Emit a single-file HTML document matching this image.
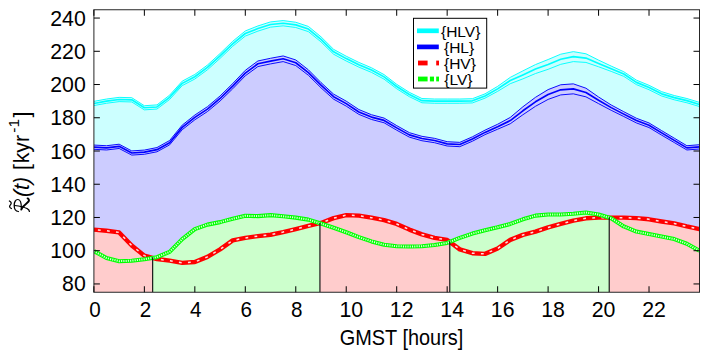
<!DOCTYPE html>
<html><head><meta charset="utf-8"><title>chart</title>
<style>html,body{margin:0;padding:0;background:#fff}body{width:708px;height:354px;overflow:hidden}</style></head>
<body>
<svg width="708" height="354" viewBox="0 0 708 354" style="display:block">
<rect width="708" height="354" fill="#fff"/>
<defs><clipPath id="c"><rect x="93.90" y="9.75" width="605.60" height="282.50"/></clipPath></defs>
<g clip-path="url(#c)">
<polygon fill="#ccffff" points="93.90,101.37 106.52,99.03 119.13,97.36 131.75,97.69 144.37,105.72 156.98,104.89 169.60,95.18 182.22,81.13 194.83,74.44 207.45,65.07 220.07,53.53 232.68,41.32 245.30,30.94 257.92,25.93 270.53,21.91 283.15,20.57 295.77,22.25 308.38,26.43 321.00,36.80 333.62,49.35 346.23,56.21 358.85,62.40 371.47,67.75 384.08,74.61 396.70,84.31 409.32,92.34 421.93,98.53 434.55,99.03 447.17,99.03 459.78,99.03 472.40,98.70 485.02,93.85 497.63,86.36 510.25,77.38 522.87,70.90 535.48,64.59 548.10,59.52 560.72,54.20 573.33,51.63 585.95,53.79 598.57,60.10 611.18,66.08 623.80,71.76 636.42,80.13 649.03,85.31 661.65,91.67 674.27,95.52 686.88,98.53 699.50,102.38 699.50,292.25 93.90,292.25"/>
<polygon fill="#ccccff" points="93.90,145.05 106.52,145.72 119.13,144.21 131.75,150.91 144.37,150.07 156.98,147.56 169.60,140.53 182.22,125.12 194.83,115.07 207.45,106.69 220.07,95.97 232.68,83.58 245.30,70.35 257.92,60.97 270.53,58.29 283.15,55.94 295.77,59.96 308.38,69.84 321.00,82.57 333.62,94.13 346.23,101.17 358.85,109.54 371.47,114.73 384.08,118.08 396.70,125.62 409.32,132.65 421.93,136.34 434.55,138.35 447.17,141.70 459.78,142.37 472.40,136.84 485.02,130.14 497.63,124.25 510.25,117.43 522.87,106.80 535.48,97.33 548.10,89.60 560.72,84.78 573.33,83.86 585.95,88.19 598.57,96.99 611.18,104.97 623.80,111.72 636.42,118.25 649.03,122.94 661.65,130.64 674.27,138.18 686.88,145.72 699.50,144.71 699.50,292.25 93.90,292.25"/>
<polygon fill="#ffcccc" points="93.90,229.60 106.52,230.76 119.13,232.43 131.75,245.55 144.37,255.69 152.65,257.87 152.65,292.25 93.90,292.25"/>
<polygon fill="#ccffcc" points="152.65,257.87 156.98,257.19 169.60,251.87 182.22,239.07 194.83,229.10 207.45,224.62 220.07,222.12 232.68,218.80 245.30,215.81 257.92,216.14 270.53,215.14 283.15,216.31 295.77,217.64 308.38,219.63 319.94,223.21 319.94,292.25 152.65,292.25"/>
<polygon fill="#ffcccc" points="319.94,223.21 321.00,222.95 333.62,218.14 346.23,215.14 358.85,215.64 371.47,217.64 384.08,220.13 396.70,223.95 409.32,229.60 421.93,234.42 434.55,237.91 447.17,239.90 449.78,241.86 449.78,292.25 319.94,292.25"/>
<polygon fill="#ccffcc" points="449.78,241.86 459.78,237.91 472.40,233.59 485.02,230.27 497.63,227.28 510.25,223.95 522.87,219.30 535.48,215.64 548.10,214.48 560.72,214.48 573.33,213.81 585.95,212.49 598.57,214.48 609.22,217.64 609.22,292.25 449.78,292.25"/>
<polygon fill="#ffcccc" points="609.22,217.64 611.18,217.64 623.80,217.64 636.42,218.14 649.03,219.30 661.65,221.46 674.27,223.45 686.88,226.44 699.50,229.10 699.50,292.25 609.22,292.25"/>
<polyline fill="none" stroke="#00ffff" stroke-width="0.95" stroke-linejoin="round" points="93.90,101.37 106.52,99.03 119.13,97.36 131.75,97.69 144.37,105.72 156.98,104.89 169.60,95.18 182.22,81.13 194.83,74.44 207.45,65.07 220.07,53.53 232.68,41.32 245.30,30.94 257.92,25.93 270.53,21.91 283.15,20.57 295.77,22.25 308.38,26.43 321.00,36.80 333.62,49.35 346.23,56.21 358.85,62.40 371.47,67.75 384.08,74.61 396.70,84.31 409.32,92.34 421.93,98.53 434.55,99.03 447.17,99.03 459.78,99.03 472.40,98.70 485.02,93.85 497.63,86.36 510.25,77.38 522.87,70.90 535.48,64.59 548.10,59.52 560.72,54.20 573.33,51.63 585.95,53.79 598.57,60.10 611.18,66.08 623.80,71.76 636.42,80.13 649.03,85.31 661.65,91.67 674.27,95.52 686.88,98.53 699.50,102.38"/>
<polyline fill="none" stroke="#00ffff" stroke-width="0.95" stroke-linejoin="round" points="93.90,105.57 106.52,103.26 119.13,101.61 131.75,101.94 144.37,109.87 156.98,109.04 169.60,99.47 182.22,85.60 194.83,79.00 207.45,69.75 220.07,58.37 232.68,46.32 245.30,36.08 257.92,31.13 270.53,27.17 283.15,25.85 295.77,27.50 308.38,31.63 321.00,41.86 333.62,54.24 346.23,61.01 358.85,67.11 371.47,72.40 384.08,79.16 396.70,88.74 409.32,96.66 421.93,102.77 434.55,103.26 447.17,103.26 459.78,103.26 472.40,102.93 485.02,98.15 497.63,91.34 510.25,83.70 522.87,78.88 535.48,73.56 548.10,69.32 560.72,64.34 573.33,61.60 585.95,62.43 598.57,66.75 611.18,71.40 623.80,76.36 636.42,84.61 649.03,89.73 661.65,96.00 674.27,99.80 686.88,102.77 699.50,106.56"/>
<polyline fill="none" stroke="#00ffff" stroke-width="1.65" stroke-linejoin="round" points="93.90,103.47 106.52,101.15 119.13,99.49 131.75,99.82 144.37,107.79 156.98,106.96 169.60,97.32 182.22,83.37 194.83,76.72 207.45,67.41 220.07,55.95 232.68,43.82 245.30,33.51 257.92,28.53 270.53,24.54 283.15,23.21 295.77,24.87 308.38,29.03 321.00,39.33 333.62,51.79 346.23,58.61 358.85,64.75 371.47,70.07 384.08,76.89 396.70,86.52 409.32,94.50 421.93,100.65 434.55,101.15 447.17,101.15 459.78,101.15 472.40,100.81 485.02,96.00 497.63,88.85 510.25,80.54 522.87,74.89 535.48,69.07 548.10,64.42 560.72,59.27 573.33,56.61 585.95,58.11 598.57,63.43 611.18,68.74 623.80,74.06 636.42,82.37 649.03,87.52 661.65,93.84 674.27,97.66 686.88,100.65 699.50,104.47"/>
<polyline fill="none" stroke="#0000ff" stroke-width="0.95" stroke-linejoin="round" points="93.90,145.05 106.52,145.72 119.13,144.21 131.75,150.91 144.37,150.07 156.98,147.56 169.60,140.53 182.22,125.12 194.83,115.07 207.45,106.69 220.07,95.97 232.68,83.58 245.30,70.35 257.92,60.97 270.53,58.29 283.15,55.94 295.77,59.96 308.38,69.84 321.00,82.57 333.62,94.13 346.23,101.17 358.85,109.54 371.47,114.73 384.08,118.08 396.70,125.62 409.32,132.65 421.93,136.34 434.55,138.35 447.17,141.70 459.78,142.37 472.40,136.84 485.02,130.14 497.63,124.25 510.25,117.43 522.87,106.80 535.48,97.33 548.10,89.60 560.72,84.78 573.33,83.86 585.95,88.19 598.57,96.99 611.18,104.97 623.80,111.72 636.42,118.25 649.03,122.94 661.65,130.64 674.27,138.18 686.88,145.72 699.50,144.71"/>
<polyline fill="none" stroke="#0000ff" stroke-width="0.95" stroke-linejoin="round" points="93.90,149.31 106.52,149.97 119.13,148.48 131.75,155.08 144.37,154.25 156.98,151.78 169.60,144.86 182.22,129.69 194.83,119.80 207.45,111.55 220.07,101.00 232.68,88.80 245.30,75.78 257.92,66.55 270.53,63.91 283.15,61.60 295.77,65.56 308.38,75.28 321.00,87.81 333.62,99.19 346.23,106.11 358.85,114.36 371.47,119.47 384.08,122.77 396.70,130.18 409.32,137.11 421.93,140.74 434.55,142.71 447.17,146.01 459.78,146.67 472.40,141.23 485.02,134.64 497.63,129.23 510.25,123.75 522.87,114.77 535.48,106.30 548.10,99.40 560.72,94.92 573.33,93.84 585.95,96.83 598.57,103.64 611.18,110.29 623.80,116.50 636.42,122.93 649.03,127.55 661.65,135.13 674.27,142.55 686.88,149.97 699.50,148.98"/>
<polyline fill="none" stroke="#0000ff" stroke-width="1.65" stroke-linejoin="round" points="93.90,147.18 106.52,147.84 119.13,146.35 131.75,152.99 144.37,152.16 156.98,149.67 169.60,142.69 182.22,127.40 194.83,117.43 207.45,109.12 220.07,98.49 232.68,86.19 245.30,73.06 257.92,63.76 270.53,61.10 283.15,58.77 295.77,62.76 308.38,72.56 321.00,85.19 333.62,96.66 346.23,103.64 358.85,111.95 371.47,117.10 384.08,120.42 396.70,127.90 409.32,134.88 421.93,138.54 434.55,140.53 447.17,143.85 459.78,144.52 472.40,139.04 485.02,132.39 497.63,126.74 510.25,120.59 522.87,110.79 535.48,101.81 548.10,94.50 560.72,89.85 573.33,88.85 585.95,92.51 598.57,100.32 611.18,107.63 623.80,114.11 636.42,120.59 649.03,125.24 661.65,132.89 674.27,140.36 686.88,147.84 699.50,146.85"/>
<polyline fill="none" stroke="#ff0000" stroke-width="4.4" stroke-linejoin="round" points="93.90,229.60 106.52,230.76 119.13,232.43 131.75,245.55 144.37,255.69 156.98,259.01 169.60,260.68 182.22,262.84 194.83,262.01 207.45,256.85 220.07,249.38 232.68,240.40 245.30,237.91 257.92,236.08 270.53,234.75 283.15,232.09 295.77,229.10 308.38,225.95 321.00,222.95 333.62,218.14 346.23,215.14 358.85,215.64 371.47,217.64 384.08,220.13 396.70,223.95 409.32,229.60 421.93,234.42 434.55,237.91 447.17,239.90 459.78,249.38 472.40,253.20 485.02,253.86 497.63,248.55 510.25,239.90 522.87,234.92 535.48,231.60 548.10,227.44 560.72,223.95 573.33,220.63 585.95,218.30 598.57,217.64 611.18,217.64 623.80,217.64 636.42,218.14 649.03,219.30 661.65,221.46 674.27,223.45 686.88,226.44 699.50,229.10"/>
<polyline fill="none" stroke="#ffe0e0" stroke-width="1.5" stroke-dasharray="2.8 6.3" stroke-dashoffset="-4" points="93.90,229.60 106.52,230.76 119.13,232.43 131.75,245.55 144.37,255.69 156.98,259.01 169.60,260.68 182.22,262.84 194.83,262.01 207.45,256.85 220.07,249.38 232.68,240.40 245.30,237.91 257.92,236.08 270.53,234.75 283.15,232.09 295.77,229.10 308.38,225.95 321.00,222.95 333.62,218.14 346.23,215.14 358.85,215.64 371.47,217.64 384.08,220.13 396.70,223.95 409.32,229.60 421.93,234.42 434.55,237.91 447.17,239.90 459.78,249.38 472.40,253.20 485.02,253.86 497.63,248.55 510.25,239.90 522.87,234.92 535.48,231.60 548.10,227.44 560.72,223.95 573.33,220.63 585.95,218.30 598.57,217.64 611.18,217.64 623.80,217.64 636.42,218.14 649.03,219.30 661.65,221.46 674.27,223.45 686.88,226.44 699.50,229.10"/>
<polyline fill="none" stroke="#00ff00" stroke-width="4.1" stroke-linejoin="round" points="93.90,251.04 106.52,258.02 119.13,261.18 131.75,260.68 144.37,259.18 156.98,257.19 169.60,251.87 182.22,239.07 194.83,229.10 207.45,224.62 220.07,222.12 232.68,218.80 245.30,215.81 257.92,216.14 270.53,215.14 283.15,216.31 295.77,217.64 308.38,219.63 321.00,223.54 333.62,227.77 346.23,232.26 358.85,237.08 371.47,241.40 384.08,244.72 396.70,246.22 409.32,246.55 421.93,246.22 434.55,245.06 447.17,242.90 459.78,237.91 472.40,233.59 485.02,230.27 497.63,227.28 510.25,223.95 522.87,219.30 535.48,215.64 548.10,214.48 560.72,214.48 573.33,213.81 585.95,212.49 598.57,214.48 611.18,218.22 623.80,226.44 636.42,231.60 649.03,234.09 661.65,236.58 674.27,239.07 686.88,243.73 699.50,250.71"/>
<polyline fill="none" stroke="#dcffdc" stroke-width="2.0" stroke-dasharray="1.1 1.16" points="93.90,251.04 106.52,258.02 119.13,261.18 131.75,260.68 144.37,259.18 156.98,257.19 169.60,251.87 182.22,239.07 194.83,229.10 207.45,224.62 220.07,222.12 232.68,218.80 245.30,215.81 257.92,216.14 270.53,215.14 283.15,216.31 295.77,217.64 308.38,219.63 321.00,223.54 333.62,227.77 346.23,232.26 358.85,237.08 371.47,241.40 384.08,244.72 396.70,246.22 409.32,246.55 421.93,246.22 434.55,245.06 447.17,242.90 459.78,237.91 472.40,233.59 485.02,230.27 497.63,227.28 510.25,223.95 522.87,219.30 535.48,215.64 548.10,214.48 560.72,214.48 573.33,213.81 585.95,212.49 598.57,214.48 611.18,218.22 623.80,226.44 636.42,231.60 649.03,234.09 661.65,236.58 674.27,239.07 686.88,243.73 699.50,250.71"/>
<line x1="152.65" x2="152.65" y1="257.37" y2="292.25" stroke="#111" stroke-width="1.15"/>
<line x1="319.94" x2="319.94" y1="222.71" y2="292.25" stroke="#111" stroke-width="1.15"/>
<line x1="449.78" x2="449.78" y1="241.36" y2="292.25" stroke="#111" stroke-width="1.15"/>
<line x1="609.22" x2="609.22" y1="217.14" y2="292.25" stroke="#111" stroke-width="1.15"/>
</g>
<rect x="93.90" y="9.75" width="605.60" height="282.50" fill="none" stroke="#262626" stroke-width="1"/>
<line x1="93.90" x2="93.90" y1="292.25" y2="286.25" stroke="#000" stroke-width="1"/>
<line x1="93.90" x2="93.90" y1="9.75" y2="15.75" stroke="#000" stroke-width="1"/>
<line x1="144.37" x2="144.37" y1="292.25" y2="286.25" stroke="#000" stroke-width="1"/>
<line x1="144.37" x2="144.37" y1="9.75" y2="15.75" stroke="#000" stroke-width="1"/>
<line x1="194.83" x2="194.83" y1="292.25" y2="286.25" stroke="#000" stroke-width="1"/>
<line x1="194.83" x2="194.83" y1="9.75" y2="15.75" stroke="#000" stroke-width="1"/>
<line x1="245.30" x2="245.30" y1="292.25" y2="286.25" stroke="#000" stroke-width="1"/>
<line x1="245.30" x2="245.30" y1="9.75" y2="15.75" stroke="#000" stroke-width="1"/>
<line x1="295.77" x2="295.77" y1="292.25" y2="286.25" stroke="#000" stroke-width="1"/>
<line x1="295.77" x2="295.77" y1="9.75" y2="15.75" stroke="#000" stroke-width="1"/>
<line x1="346.23" x2="346.23" y1="292.25" y2="286.25" stroke="#000" stroke-width="1"/>
<line x1="346.23" x2="346.23" y1="9.75" y2="15.75" stroke="#000" stroke-width="1"/>
<line x1="396.70" x2="396.70" y1="292.25" y2="286.25" stroke="#000" stroke-width="1"/>
<line x1="396.70" x2="396.70" y1="9.75" y2="15.75" stroke="#000" stroke-width="1"/>
<line x1="447.17" x2="447.17" y1="292.25" y2="286.25" stroke="#000" stroke-width="1"/>
<line x1="447.17" x2="447.17" y1="9.75" y2="15.75" stroke="#000" stroke-width="1"/>
<line x1="497.63" x2="497.63" y1="292.25" y2="286.25" stroke="#000" stroke-width="1"/>
<line x1="497.63" x2="497.63" y1="9.75" y2="15.75" stroke="#000" stroke-width="1"/>
<line x1="548.10" x2="548.10" y1="292.25" y2="286.25" stroke="#000" stroke-width="1"/>
<line x1="548.10" x2="548.10" y1="9.75" y2="15.75" stroke="#000" stroke-width="1"/>
<line x1="598.57" x2="598.57" y1="292.25" y2="286.25" stroke="#000" stroke-width="1"/>
<line x1="598.57" x2="598.57" y1="9.75" y2="15.75" stroke="#000" stroke-width="1"/>
<line x1="649.03" x2="649.03" y1="292.25" y2="286.25" stroke="#000" stroke-width="1"/>
<line x1="649.03" x2="649.03" y1="9.75" y2="15.75" stroke="#000" stroke-width="1"/>
<line x1="93.90" x2="99.90" y1="283.94" y2="283.94" stroke="#000" stroke-width="1"/>
<line x1="699.50" x2="693.50" y1="283.94" y2="283.94" stroke="#000" stroke-width="1"/>
<line x1="93.90" x2="99.90" y1="250.71" y2="250.71" stroke="#000" stroke-width="1"/>
<line x1="699.50" x2="693.50" y1="250.71" y2="250.71" stroke="#000" stroke-width="1"/>
<line x1="93.90" x2="99.90" y1="217.47" y2="217.47" stroke="#000" stroke-width="1"/>
<line x1="699.50" x2="693.50" y1="217.47" y2="217.47" stroke="#000" stroke-width="1"/>
<line x1="93.90" x2="99.90" y1="184.24" y2="184.24" stroke="#000" stroke-width="1"/>
<line x1="699.50" x2="693.50" y1="184.24" y2="184.24" stroke="#000" stroke-width="1"/>
<line x1="93.90" x2="99.90" y1="151.00" y2="151.00" stroke="#000" stroke-width="1"/>
<line x1="699.50" x2="693.50" y1="151.00" y2="151.00" stroke="#000" stroke-width="1"/>
<line x1="93.90" x2="99.90" y1="117.76" y2="117.76" stroke="#000" stroke-width="1"/>
<line x1="699.50" x2="693.50" y1="117.76" y2="117.76" stroke="#000" stroke-width="1"/>
<line x1="93.90" x2="99.90" y1="84.53" y2="84.53" stroke="#000" stroke-width="1"/>
<line x1="699.50" x2="693.50" y1="84.53" y2="84.53" stroke="#000" stroke-width="1"/>
<line x1="93.90" x2="99.90" y1="51.29" y2="51.29" stroke="#000" stroke-width="1"/>
<line x1="699.50" x2="693.50" y1="51.29" y2="51.29" stroke="#000" stroke-width="1"/>
<line x1="93.90" x2="99.90" y1="18.06" y2="18.06" stroke="#000" stroke-width="1"/>
<line x1="699.50" x2="693.50" y1="18.06" y2="18.06" stroke="#000" stroke-width="1"/>
<g font-family="'Liberation Sans', sans-serif" font-size="21.3" fill="#000">
<text x="85.8" y="291.44" text-anchor="end">80</text>
<text x="85.8" y="258.21" text-anchor="end">100</text>
<text x="85.8" y="224.97" text-anchor="end">120</text>
<text x="85.8" y="191.74" text-anchor="end">140</text>
<text x="85.8" y="158.50" text-anchor="end">160</text>
<text x="85.8" y="125.26" text-anchor="end">180</text>
<text x="85.8" y="92.03" text-anchor="end">200</text>
<text x="85.8" y="58.79" text-anchor="end">220</text>
<text x="85.8" y="25.56" text-anchor="end">240</text>
<text transform="translate(94.90,317.2) scale(0.97,1)" text-anchor="middle">0</text>
<text transform="translate(145.37,317.2) scale(0.97,1)" text-anchor="middle">2</text>
<text transform="translate(195.83,317.2) scale(0.97,1)" text-anchor="middle">4</text>
<text transform="translate(246.30,317.2) scale(0.97,1)" text-anchor="middle">6</text>
<text transform="translate(296.77,317.2) scale(0.97,1)" text-anchor="middle">8</text>
<text transform="translate(351.23,317.2) scale(1,1)" text-anchor="middle">10</text>
<text transform="translate(401.70,317.2) scale(1,1)" text-anchor="middle">12</text>
<text transform="translate(452.17,317.2) scale(1,1)" text-anchor="middle">14</text>
<text transform="translate(502.63,317.2) scale(1,1)" text-anchor="middle">16</text>
<text transform="translate(553.10,317.2) scale(1,1)" text-anchor="middle">18</text>
<text transform="translate(603.57,317.2) scale(1,1)" text-anchor="middle">20</text>
<text transform="translate(654.03,317.2) scale(1,1)" text-anchor="middle">22</text>
<text transform="translate(401.5,344.8) scale(0.935,1)" text-anchor="middle">GMST [hours]</text>
<g transform="translate(29,213) rotate(-90)">
<g transform="translate(0.4,0) scale(0.87,1)">
<path d="M1.2,-10.6 C1.6,-13.6 4.6,-14.8 8.2,-14.8 C12.2,-14.8 15.2,-13.4 15,-11 C14.8,-8.6 11,-7.6 5.2,-7.7" fill="none" stroke="#000" stroke-width="1.3" stroke-linecap="round"/>
<path d="M8.2,-14.4 C7.6,-10 6.4,-5 4.6,-2 C3.6,-0.4 2.4,0.4 1.2,0.4" fill="none" stroke="#000" stroke-width="1.3" stroke-linecap="round"/>
<path d="M3.4,-7.7 C7,-7.2 9,-3.4 12.6,-0.6 C14,0.4 15.4,0 16.4,-1.4" fill="none" stroke="#000" stroke-width="2" stroke-linecap="round"/>
<path d="M4.6,-17.6 C5.8,-19.8 7.6,-19.8 9,-18.6 C10.4,-17.4 12.2,-17.4 13.4,-19.6" fill="none" stroke="#000" stroke-width="1.3" stroke-linecap="round"/>
</g>
<text x="16" y="0" font-style="italic">(t)</text>
<text x="42.9" y="0">[</text>
<text x="49.7" y="0">kyr</text>
<text x="80.3" y="-9.6" font-size="15.5">-1</text>
<text x="95.6" y="0">]</text>
</g>
</g>
<rect x="413.5" y="18.3" width="73.2" height="69.8" fill="#fff" stroke="#000" stroke-width="1"/>
<line x1="417" x2="438.8" y1="30.8" y2="30.8" stroke="#00ffff" stroke-width="4.7"/>
<line x1="417" x2="438.8" y1="46.9" y2="46.9" stroke="#0000ff" stroke-width="4.7"/>
<line x1="418" x2="427.6" y1="63" y2="63" stroke="#ff0000" stroke-width="4.8"/>
<line x1="436.2" x2="439" y1="63" y2="63" stroke="#ff0000" stroke-width="4.8"/>
<line x1="418" x2="427.6" y1="79" y2="79" stroke="#00ff00" stroke-width="4.8"/>
<line x1="429.9" x2="434" y1="79" y2="79" stroke="#00ff00" stroke-width="4.8"/>
<line x1="436.2" x2="439" y1="79" y2="79" stroke="#00ff00" stroke-width="4.8"/>
<g font-family="'Liberation Sans', sans-serif" font-size="15.5" fill="#000">
<text x="441.0" y="36.8">{HLV}</text>
<text x="444.0" y="52.9">{HL}</text>
<text x="444.0" y="68.9">{HV}</text>
<text x="444.3" y="85.0">{LV}</text>
</g>
</svg>
</body></html>
